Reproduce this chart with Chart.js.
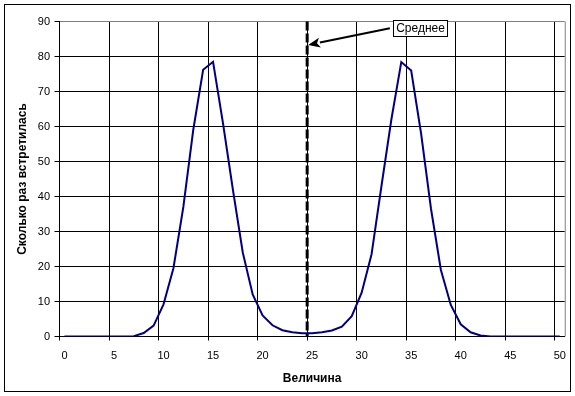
<!DOCTYPE html>
<html><head><meta charset="utf-8">
<script src="https://cdn.jsdelivr.net/npm/chart.js@4/dist/chart.umd.min.js"></script>
<style>html,body{margin:0;padding:0;background:#fff;}#wrap{width:575px;height:396px;position:relative;}</style>
</head><body><div id="wrap"><canvas id="c"></canvas></div>
<script>
const categories = ['0','1','2','3','4','5','6','7','8','9','10','11','12','13','14','15','16','17','18','19','20','21','22','23','24','25','26','27','28','29','30','31','32','33','34','35','36','37','38','39','40','41','42','43','44','45','46','47','48','49','50'];
const counts = [0,0,0,0,0,0,0,0.1,1.0,3.1,9.2,19.5,37,59,76.2,78.5,61,42,24,12,6,3.2,1.8,1.2,0.9,0.9,1.2,1.7,2.8,5.8,12.5,23.5,43,62,78.4,76,58,36.5,19,9,3.5,1.2,0.3,0,0,0,0,0,0,0,0];
const xLabelStep = 5;
const yMin = 0, yMax = 90, yStep = 10;
const meanLabel = '25';
const calloutText = 'Среднее';
const arrowFrom = [32.85, 88.1];
const arrowTo = [24.6, 83.3];
const calloutAnchor = [33.2, 88.2];
const xTitle = 'Величина';
const yTitle = 'Сколько раз встретилась';

const FONT = "'Liberation Sans', Arial, sans-serif";

const decor = {
  id: 'decor',
  afterDatasetsDraw(chart) {
    const {ctx, chartArea: a, scales: {x, y}} = chart;
    ctx.save();
    ctx.strokeStyle = '#808080'; ctx.lineWidth = 1;
    ctx.beginPath(); ctx.moveTo(a.right + 0.5, a.top); ctx.lineTo(a.right + 0.5, a.bottom); ctx.stroke();
    const mx = x.getPixelForValue(categories.indexOf(meanLabel) - 0.5);
    ctx.strokeStyle = '#000'; ctx.lineWidth = 3; ctx.setLineDash([9, 3]);
    ctx.beginPath(); ctx.moveTo(mx, a.top); ctx.lineTo(mx, a.bottom); ctx.stroke();
    ctx.setLineDash([]);
    const fx = x.getPixelForValue(arrowFrom[0]), fy = y.getPixelForValue(arrowFrom[1]);
    const tx = x.getPixelForValue(arrowTo[0]), ty = y.getPixelForValue(arrowTo[1]);
    const ang = Math.atan2(ty - fy, tx - fx);
    const hl = 12, hw = 5;
    const bx = tx - hl * Math.cos(ang), by = ty - hl * Math.sin(ang);
    ctx.lineWidth = 2;
    ctx.beginPath(); ctx.moveTo(fx, fy); ctx.lineTo(bx, by); ctx.stroke();
    ctx.fillStyle = '#000';
    ctx.beginPath();
    ctx.moveTo(tx, ty);
    ctx.lineTo(bx + hw * Math.sin(ang), by - hw * Math.cos(ang));
    ctx.lineTo(bx + 3 * Math.cos(ang), by + 3 * Math.sin(ang));
    ctx.lineTo(bx - hw * Math.sin(ang), by + hw * Math.cos(ang));
    ctx.closePath(); ctx.fill();
    ctx.font = '12px ' + FONT;
    const tw = ctx.measureText(calloutText).width;
    const lx = Math.round(x.getPixelForValue(calloutAnchor[0])) + 0.5;
    const cy = y.getPixelForValue(calloutAnchor[1]);
    const w = Math.round(tw + 5), h = 16;
    const ty0 = Math.round(cy - h / 2) + 0.5;
    ctx.fillStyle = '#fff'; ctx.fillRect(lx, ty0, w, h);
    ctx.strokeStyle = '#000'; ctx.lineWidth = 1; ctx.strokeRect(lx, ty0, w, h);
    ctx.fillStyle = '#000'; ctx.textAlign = 'center'; ctx.textBaseline = 'middle';
    ctx.fillText(calloutText, lx + w / 2, ty0 + h / 2 + 0.5);
    ctx.strokeRect(4.5, 4.5, 566, 387);
    ctx.restore();
  }
};

new Chart(document.getElementById('c'), {
  type: 'line',
  data: {
    labels: categories,
    datasets: [{
      data: counts,
      borderColor: '#000080',
      borderWidth: 2,
      pointRadius: 0,
      tension: 0,
      fill: false
    }]
  },
  options: {
    responsive: true,
    maintainAspectRatio: false,
    animation: false,
    devicePixelRatio: 1,
    layout: {padding: {left: 0, right: 10, top: 21.5, bottom: 0}},
    plugins: {legend: {display: false}, tooltip: {enabled: false}},
    scales: {
      x: {
        type: 'category',
        offset: true,
        afterFit(s) { s.height = 59.5; },
        grid: {
          offset: true,
          color: c => (c.index % xLabelStep === 0 && c.index < categories.length) ? '#000' : 'rgba(0,0,0,0)',
          lineWidth: 1,
          tickLength: 4
        },
        border: {color: '#000', width: 1},
        ticks: {
          autoSkip: false, maxRotation: 0, minRotation: 0,
          color: '#000', font: {family: FONT, size: 11}, padding: 9,
          callback: (v, i) => i % xLabelStep === 0 ? categories[i] : ''
        },
        title: {display: true, text: xTitle, color: '#000', font: {family: FONT, size: 12, weight: 'bold'}, padding: {top: 0, bottom: 10}}
      },
      y: {
        min: yMin, max: yMax,
        afterFit(s) { s.width = 59.5; },
        grid: {
          color: c => (c.tick && c.tick.value === yMax) ? '#808080' : '#000',
          tickColor: '#000',
          lineWidth: 1,
          tickLength: 5
        },
        border: {color: '#000', width: 1},
        ticks: {stepSize: yStep, color: '#000', font: {family: FONT, size: 11}, padding: 4.5},
        title: {display: true, text: yTitle, color: '#000', font: {family: FONT, size: 12, weight: 'bold'}, padding: {top: 15.3, bottom: 0}}
      }
    }
  },
  plugins: [decor]
});
</script>
</body></html>
